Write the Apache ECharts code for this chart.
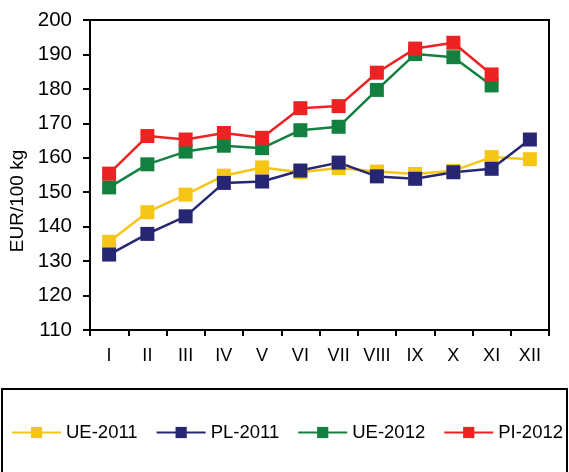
<!DOCTYPE html>
<html>
<head>
<meta charset="utf-8">
<script src="https://cdn.jsdelivr.net/npm/echarts@6/dist/echarts.min.js"></script>
<style>
  html, body { margin: 0; padding: 0; background: #fff; }
  #chart { width: 569px; height: 472px; }
</style>
</head>
<body>
<div id="chart"></div>
<script>
// Monthly prices, EUR per 100 kg
const months = ['I', 'II', 'III', 'IV', 'V', 'VI', 'VII', 'VIII', 'IX', 'X', 'XI', 'XII'];
const ue2011 = [135.6, 144.2, 149.3, 154.8, 157.2, 155.8, 157.0, 156.0, 155.3, 156.2, 160.2, 159.6];
const pl2011 = [131.9, 137.9, 143.0, 152.7, 153.1, 156.3, 158.6, 154.6, 153.9, 155.8, 156.8, 165.3];
const ue2012 = [151.4, 158.1, 161.8, 163.5, 162.8, 168.0, 169.0, 179.7, 190.1, 189.2, 181.0];
const pi2012 = [155.4, 166.3, 165.3, 167.2, 165.8, 174.4, 175.0, 184.7, 191.7, 193.4, 184.2];
const yTicks = { min: 110, max: 200, step: 10 };
const yTitle = 'EUR/100 kg';

const seriesDefs = [
  { name: 'UE-2011', data: ue2011, color: '#F5C518' },
  { name: 'PL-2011', data: pl2011, color: '#262673' },
  { name: 'UE-2012', data: ue2012, color: '#138040' },
  { name: 'PI-2012', data: pi2012, color: '#EE2222' }
];

const font = 'Arial, "Liberation Sans", sans-serif';
const chart = echarts.init(document.getElementById('chart'), null, { renderer: 'canvas' });

chart.setOption({
  backgroundColor: '#fff',
  animation: false,
  graphic: [
    {
      // frame around the legend
      type: 'rect',
      shape: { x: 2, y: 389, width: 565, height: 100 },
      style: { fill: 'none', stroke: '#000', lineWidth: 2 },
      z: 0
    },
    {
      // vertical axis title
      type: 'text',
      x: 18,
      y: 201,
      rotation: Math.PI / 2,
      style: {
        text: yTitle,
        fontFamily: font,
        fontSize: 19,
        fill: '#000',
        align: 'center',
        verticalAlign: 'middle'
      }
    }
  ],
  legend: {
    left: 6,
    top: 418,
    itemWidth: 49,
    itemHeight: 14,
    itemGap: 18,
    textStyle: { fontFamily: font, fontSize: 18.5, color: '#000' },
    data: seriesDefs.map(s => s.name)
  },
  grid: {
    left: 90, right: 20, top: 20, bottom: 142,
    show: true, borderColor: '#000', borderWidth: 2,
    containLabel: false
  },
  xAxis: {
    type: 'category',
    data: months,
    boundaryGap: true,
    axisLine: { lineStyle: { color: '#000', width: 2 } },
    axisTick: { show: true, alignWithLabel: false, length: 6, lineStyle: { color: '#000', width: 2 } },
    axisLabel: { fontFamily: font, fontSize: 18, color: '#000', margin: 17 }
  },
  yAxis: {
    type: 'value',
    min: yTicks.min,
    max: yTicks.max,
    interval: yTicks.step,
    splitLine: { show: false },
    axisLine: { show: true, lineStyle: { color: '#000', width: 2 } },
    axisTick: { show: true, length: 7, lineStyle: { color: '#000', width: 2 } },
    axisLabel: { fontFamily: font, fontSize: 20.5, color: '#000', margin: 18 }
  },
  series: seriesDefs.map(s => ({
    name: s.name,
    type: 'line',
    data: s.data,
    symbol: 'rect',
    symbolSize: 14,
    lineStyle: { color: s.color, width: 2.5 },
    itemStyle: { color: s.color, borderWidth: 0 },
    color: s.color
  }))
});
</script>
</body>
</html>
